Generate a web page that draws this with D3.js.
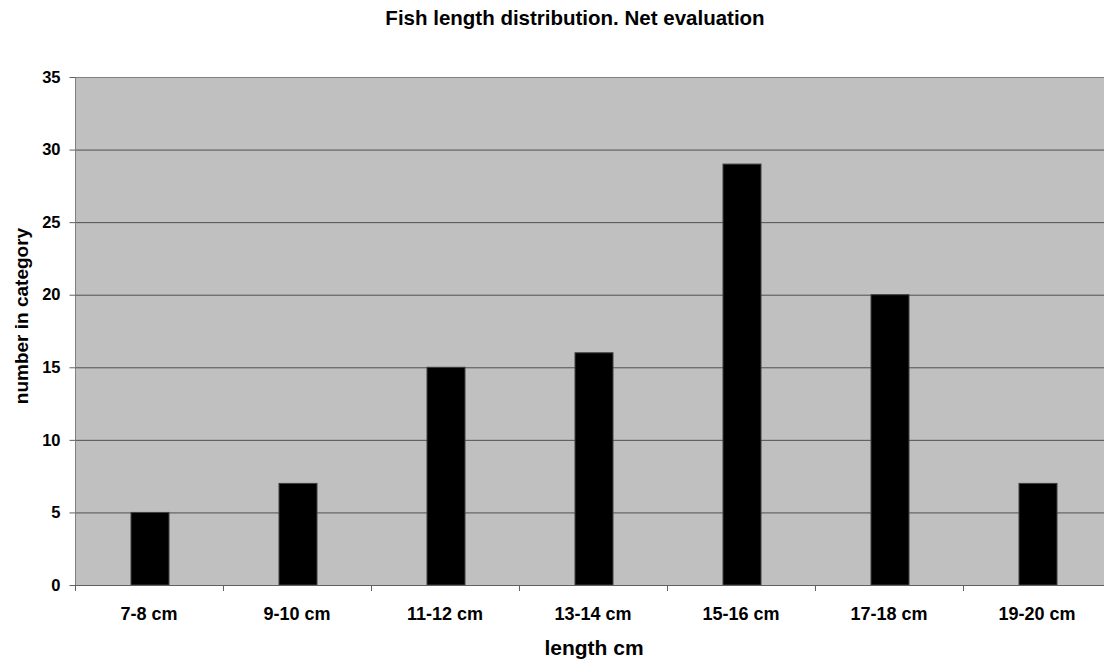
<!DOCTYPE html>
<html><head><meta charset="utf-8">
<script src="https://cdn.jsdelivr.net/npm/d3@7"></script>
<style>body{margin:0;background:#fff}svg{display:block}text{font-family:"Liberation Sans",Arial,sans-serif;font-weight:bold;fill:#000}</style>
</head><body>
<svg id="c" width="1104" height="663"></svg>
<script>
const categories = ["7-8 cm","9-10 cm","11-12 cm","13-14 cm","15-16 cm","17-18 cm","19-20 cm"];
const counts = [5,7,15,16,29,20,7];
const yTicks = [0,5,10,15,20,25,30,35];

const svg = d3.select("#c");
const L = 75, R = 1111, T = 77, B = 585;
const x = d3.scaleBand().domain(categories).range([L, R]).paddingInner(0).paddingOuter(0);
const y = d3.scaleLinear().domain([0,35]).range([B, T]);

svg.append("rect").attr("x",L).attr("y",T).attr("width",R-L).attr("height",B-T).attr("fill","#c0c0c0");

// gridlines
svg.append("g").selectAll("line").data(yTicks.filter(d=>d>0)).join("line")
  .attr("x1",L).attr("x2",R).attr("y1",d=>y(d)+0.5).attr("y2",d=>y(d)+0.5)
  .attr("stroke",d=>d===35?"#808080":"#505050").attr("stroke-width",1);

// bars
const bw = 38;
svg.append("g").selectAll("rect").data(categories).join("rect")
  .attr("x",(d)=>x(d)+x.bandwidth()/2-bw/2+1)
  .attr("y",(d,i)=>y(counts[i]))
  .attr("width",bw)
  .attr("height",(d,i)=>B-y(counts[i]))
  .attr("fill","#000").attr("stroke","#404040").attr("stroke-width",1);

// y axis
const ya = svg.append("g").attr("transform",`translate(${L+0.5},0)`)
  .call(d3.axisLeft(y).tickValues(yTicks).tickSize(6).tickPadding(9));
ya.select(".domain").attr("stroke","#808080").attr("d",`M0,${T}V${B}`);
ya.selectAll(".tick line").attr("stroke","#606060");
ya.selectAll("text").attr("font-size",16.5).style("font-weight","bold").attr("font-family","Liberation Sans, Arial, sans-serif").attr("fill","#000");

// x axis
const xa = svg.append("g").attr("transform",`translate(0,${B+0.5})`)
  .call(d3.axisBottom(x).tickSize(0).tickPadding(22));
xa.select(".domain").attr("stroke","#606060").attr("d",`M${L},0H${R}`);
xa.selectAll("text").attr("font-size",18).style("font-weight","bold").attr("font-family","Liberation Sans, Arial, sans-serif").attr("fill","#000");
// category separator ticks
svg.append("g").selectAll("line").data(categories.map(c=>x(c))).join("line")
  .attr("x1",d=>d+0.5).attr("x2",d=>d+0.5).attr("y1",B).attr("y2",B+6).attr("stroke","#606060");

// titles
svg.append("text").attr("x",575).attr("y",25).attr("text-anchor","middle").attr("font-size",20.5).text("Fish length distribution. Net evaluation");
svg.append("text").attr("x",594).attr("y",655).attr("text-anchor","middle").attr("font-size",21).text("length cm");
svg.append("text").attr("transform","translate(28,316) rotate(-90)").attr("text-anchor","middle").attr("font-size",19).text("number in category");
</script>
</body></html>
